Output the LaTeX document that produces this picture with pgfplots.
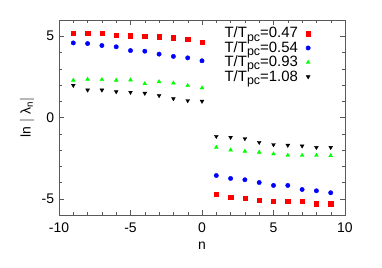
\documentclass[border=0pt]{standalone}
\usepackage{fontspec}
\setmainfont{Liberation Sans}
\usepackage{pgfplots}
\pgfplotsset{compat=1.18}
\newcommand{\pc}{\raisebox{-0.4ex}{\fontsize{12.5}{12}\selectfont pc}}
\begin{document}
\fontsize{14}{16}\selectfont
\begin{tikzpicture}
\begin{axis}[
  scale only axis,
  width=286bp, height=195bp,
  xmin=-10, xmax=10, ymin=-6, ymax=6,
  xtick={-10,-5,0,5,10}, ytick={-5,0,5},
  minor x tick num=4, minor y tick num=4,
  tick align=inside,
  major tick length=5bp, minor tick length=3bp,
  axis line style={gray!70!black},
  tick style={gray!70!black},
  /pgf/number format/assume math mode=true,
  tick label style={font=\fontsize{14}{16}\selectfont},
  xticklabel style={yshift=-3bp},
  xlabel={n}, ylabel={ln $|$ λ\textsubscript{n}$|$},
  label style={font=\fontsize{14}{16}\selectfont},
  xlabel style={yshift=0bp},
  ylabel style={yshift=-2bp},
  legend style={draw=none, fill=none, at={(0.89,0.985)}, anchor=north east,
    font=\fontsize{15}{12}\selectfont, row sep=-2.5bp, column sep=6bp},
  legend cell align=right,
  legend plot pos=right,
  clip=false,
]
\addplot[only marks, mark=square*, mark size=2.2pt, color=red] coordinates {
(-9,5.20)(-8,5.20)(-7,5.20)(-6,5.06)(-5,5.04)(-4,5.02)(-3,4.98)(-2,4.90)(-1,4.80)(0,4.63)
(1,-4.73)(2,-4.90)(3,-4.98)(4,-5.10)(5,-5.14)(6,-5.14)(7,-5.16)(8,-5.30)(9,-5.30)};
\addlegendentry{T/T\pc=0.47}
\addplot[only marks, mark=*, mark size=2.2pt, color=blue] coordinates {
(-9,4.59)(-8,4.55)(-7,4.43)(-6,4.35)(-5,4.12)(-4,4.08)(-3,3.90)(-2,3.76)(-1,3.67)(0,3.49)
(1,-3.57)(2,-3.75)(3,-3.83)(4,-4.00)(5,-4.18)(6,-4.18)(7,-4.43)(8,-4.51)(9,-4.63)};
\addlegendentry{T/T\pc=0.54}
\addplot[only marks, mark=triangle*, mark size=2.2pt, color=green] coordinates {
(-9,2.29)(-8,2.35)(-7,2.33)(-6,2.29)(-5,2.31)(-4,2.08)(-3,2.20)(-2,2.12)(-1,1.96)(0,1.82)
(1,-1.84)(2,-2.00)(3,-2.08)(4,-2.14)(5,-2.24)(6,-2.33)(7,-2.33)(8,-2.33)(9,-2.35)};
\addlegendentry{T/T\pc=0.93}
\addplot[only marks, mark=triangle*, mark options={rotate=180}, mark size=2.2pt, color=black] coordinates {
(-9,1.98)(-8,1.69)(-7,1.69)(-6,1.59)(-5,1.55)(-4,1.49)(-3,1.35)(-2,1.16)(-1,1.04)(0,1.00)
(1,-1.16)(2,-1.22)(3,-1.30)(4,-1.53)(5,-1.67)(6,-1.71)(7,-1.75)(8,-1.84)(9,-1.84)};
\addlegendentry{T/T\pc=1.08}
\end{axis}
\pgfresetboundingbox
\path[use as bounding box] ([shift={(-59bp,-52bp)}]current axis.south west) rectangle ([shift={(37bp,20bp)}]current axis.north east);
\end{tikzpicture}
\end{document}
